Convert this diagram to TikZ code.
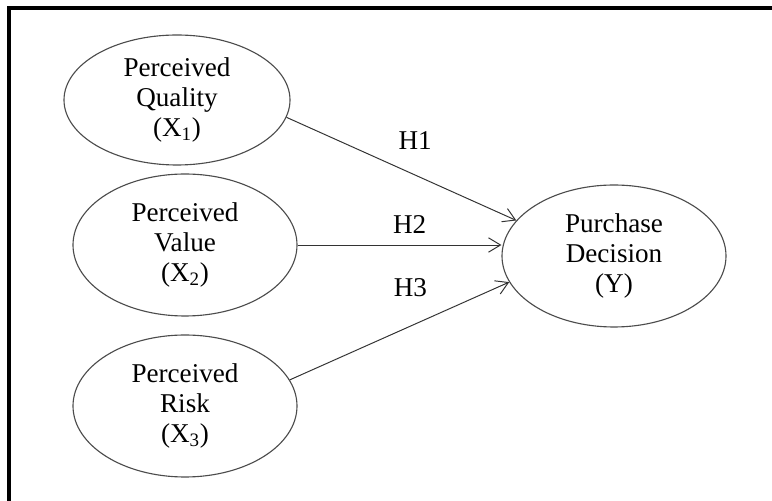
\documentclass[tikz,border=0pt]{standalone}
\usepackage{fontspec}
\setmainfont{Liberation Serif}
\usepackage{tikz}
\usetikzlibrary{arrows.meta,positioning,shapes.geometric,calc}

\begin{document}
\begin{tikzpicture}[
    construct/.style={draw=black!70,line width=0.8pt,ellipse,align=center,inner sep=0pt,minimum width=5.6cm,minimum height=3.55cm,font=\fontsize{19.3}{21.3}\selectfont},
    hyparrow/.style={-{Straight Barb[length=3mm,width=3.6mm]},line width=0.7pt,draw=black!80},
    hyplabel/.style={font=\fontsize{19.3}{21.3}\selectfont}
  ]
    \useasboundingbox (0,0) rectangle (19.3,12.525);
    % frame
    \draw[line width=2.6pt] (0.225,0) |- (19.3,12.325);
    % constructs
    \node[construct,minimum width=5.65cm,minimum height=3.25cm] (quality) at (4.425,10.025) {Perceived\\Quality\\(X\textsubscript{1})};
    \node[construct] (value) at (4.625,6.4) {Perceived\\Value\\(X\textsubscript{2})};
    \node[construct] (risk) at (4.625,2.375) {Perceived\\Risk\\(X\textsubscript{3})};
    \node[construct] (decision) at (15.35,6.125) {Purchase\\Decision\\(Y)};
    % hypotheses
    \draw[hyparrow] (quality.-9) -- node[hyplabel,pos=0.56,yshift=0.875cm] (h1) {H1} (decision.160);
    \draw[hyparrow] (value.east) -- node[hyplabel,pos=0.55,yshift=0.5cm] (h2) {H2} (value.east -| decision.west);
    \draw[hyparrow] (risk.14) -- node[hyplabel,pos=0.55,yshift=0.95cm] (h3) {H3} (decision.194);
\end{tikzpicture}
\end{document}
